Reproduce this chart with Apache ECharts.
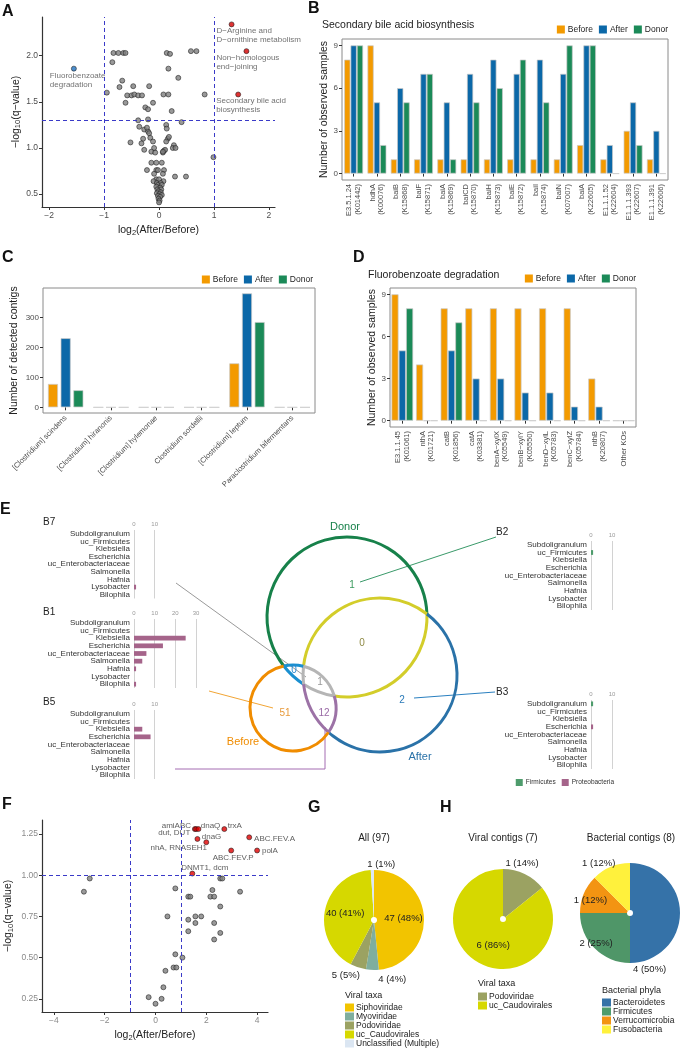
<!DOCTYPE html>
<html>
<head>
<meta charset="utf-8">
<title>Figure</title>
<script src="https://cdn.jsdelivr.net/npm/echarts@6/dist/echarts.min.js"></script>
<style>
  html, body { margin: 0; padding: 0; background: #fff; }
  #chart { width: 682px; height: 1050px; }
</style>
</head>
<body>
<div id="chart"></div>
<script>
// ---------- data ----------
// A: pathway volcano (log2 fold change vs -log10 q)
const aX = [-0.95,-0.85,-0.83,-0.74,-0.65,-0.61,-0.67,-0.72,-0.47,-0.18,-0.58,-0.50,-0.45,-0.38,-0.31,-0.61,-0.11,-0.25,-0.20,
  0.14,0.20,0.58,0.68,0.17,0.35,0.08,0.17,0.83,0.23,0.41,-0.38,-0.20,0.13,0.14,-0.36,-0.27,-0.20,-0.18,-0.29,-0.16,-0.11,-0.32,
  -0.52,0.16,0.13,0.18,0.27,0.25,0.30,-0.27,-0.14,-0.07,-0.09,0.09,0.07,0.11,0.99,-0.14,-0.05,0.05,-0.22,-0.05,0.09,-0.02,-0.09,
  0.07,0.29,0.49,-0.05,0.00,-0.10,0.08,-0.04,0.03,-0.02,0.05,-0.05,0.02,-0.03,0.04,-0.01,0.03,-0.04,0.01,0.05,-0.02,0.02,-0.01,
  0.01,0.00,-0.22,0.07];
const aY = [1.60,1.93,2.03,2.03,2.03,2.03,1.73,1.66,1.67,1.67,1.57,1.57,1.58,1.57,1.57,1.49,1.49,1.44,1.42,
  2.03,2.02,2.05,2.05,1.86,1.76,1.58,1.58,1.58,1.40,1.28,1.30,1.31,1.25,1.21,1.23,1.20,1.18,1.16,1.10,1.11,1.07,1.05,
  1.06,1.10,1.07,1.12,1.03,1.00,1.00,0.98,0.96,0.95,1.00,0.97,0.95,0.98,0.90,0.84,0.84,0.84,0.76,0.76,0.76,0.76,0.72,
  0.72,0.69,0.69,0.66,0.66,0.64,0.64,0.62,0.62,0.60,0.60,0.58,0.57,0.55,0.55,0.53,0.52,0.51,0.50,0.49,0.48,0.47,0.45,
  0.43,0.41,1.22,0.96];
const aSigNames = ['Fluorobenzoate\ndegradation', 'D\u2212Arginine and\nD\u2212ornithine metabolism',
  'Non\u2212homologous\nend\u2212joining', 'Secondary bile acid\nbiosynthesis'];
const aSigX = [-1.55, 1.32, 1.59, 1.44];
const aSigY = [1.86, 2.34, 2.05, 1.58];
const aCutX = [-1, 1];
const aCutY = [1.3];
const aTicksX = [-2, -1, 0, 1, 2];
const aTicksY = [0.5, 1.0, 1.5, 2.0];

// B: secondary bile acid biosynthesis KOs
const bKOs = ['E3.5.1.24\n(K01442)', 'hdhA\n(K00076)', 'baiB\n(K15868)', 'baiF\n(K15871)', 'baiA\n(K15869)',
  'baiCD\n(K15870)', 'baiH\n(K15873)', 'baiE\n(K15872)', 'baiI\n(K15874)', 'baiN\n(K07007)', 'baiA\n(K22605)',
  'E1.1.1.52\n(K22604)', 'E1.1.1.393\n(K22607)', 'E1.1.1.391\n(K22606)'];
const bBefore = [8, 9, 1, 1, 1, 1, 1, 1, 1, 1, 2, 1, 3, 1];
const bAfter  = [9, 5, 6, 7, 5, 7, 8, 7, 8, 7, 9, 2, 5, 3];
const bDonor  = [9, 2, 5, 7, 1, 5, 6, 8, 5, 9, 9, 0, 2, 0];
const sampleTicks = [0, 3, 6, 9];

// C: contigs per species
const cSpecies = ['[Clostridium] scindens', '[Clostridium] hiranonis', '[Clostridium] hylemonae',
  'Clostridium sordellii', '[Clostridium] leptum', 'Paraclostridium bifermentans'];
const cBefore = [78, 0, 0, 0, 147, 0];
const cAfter  = [231, 0, 0, 0, 381, 0];
const cDonor  = [57, 0, 0, 0, 285, 0];
const contigTicks = [0, 100, 200, 300];

// D: fluorobenzoate degradation KOs
const dKOs = ['E3.1.1.45\n(K01061)', 'nthA\n(K01721)', 'catB\n(K01856)', 'catA\n(K03381)', 'benA\u2212xylX\n(K05549)',
  'benB\u2212xylY\n(K05550)', 'benD\u2212xylL\n(K05783)', 'benC\u2212xylZ\n(K05784)', 'nthB\n(K20807)', 'Other KOs'];
const dBefore = [9, 4, 8, 8, 8, 8, 8, 8, 3, 0];
const dAfter  = [5, 0, 5, 3, 3, 2, 2, 1, 1, 0];
const dDonor  = [8, 0, 7, 0, 0, 0, 0, 0, 0, 0];

// E: genus composition of the Venn bins
const eGenera = ['Subdoligranulum', 'uc_Firmicutes', 'Klebsiella', 'Escherichia', 'uc_Enterobacteriaceae',
  'Salmonella', 'Hafnia', 'Lysobacter', 'Bilophila'];
const ePhyla = ['Firmicutes', 'Firmicutes', 'Proteobacteria', 'Proteobacteria', 'Proteobacteria',
  'Proteobacteria', 'Proteobacteria', 'Proteobacteria', 'Proteobacteria'];
const eB7 = [0, 0, 0, 0, 0, 0, 0, 1, 0];
const eB1 = [0, 0, 25, 14, 6, 4, 1, 0, 1];
const eB5 = [0, 0, 4, 8, 0, 0, 0, 0, 0];
const eB2 = [0, 1, 0, 0, 0, 0, 0, 0, 0];
const eB3 = [1, 0, 0, 1, 0, 0, 0, 0, 0];
const vennRegions = ['D', 'AD', 'A', 'B', 'BD', 'ABD', 'AB'];
const vennCounts = [1, 0, 2, 51, 0, 1, 12];

// F: gene volcano
const fX = [-2.82, -2.59, 0.78, 0.47, 1.29, 1.37, 1.29, 1.57, 1.80, 1.57, 1.29, 2.24, 2.16, 2.31, 2.55, 2.63, 2.55,
  2.31, 2.55, 2.31, 3.33, 0.78, 1.06, 0.71, 0.82, 0.39, 0.31, -0.27, 0.24, 0.00];
const fY = [0.90, 0.98, 0.92, 0.75, 0.87, 0.87, 0.73, 0.75, 0.75, 0.71, 0.66, 0.91, 0.87, 0.87, 0.98, 0.98, 0.81,
  0.71, 0.65, 0.61, 0.90, 0.52, 0.50, 0.44, 0.44, 0.42, 0.32, 0.26, 0.25, 0.22];
const fSigNames = ['amiABC', 'dut, DUT', 'dnaQ', 'dnaG', 'nhA, RNASEH1', 'trxA', 'ABC.FEV.A', 'ABC.FEV.P', 'polA', 'DNMT1, dcm'];
const fSigX = [1.55, 1.60, 1.69, 1.65, 2.00, 2.71, 3.69, 2.98, 4.00, 1.45];
const fSigY = [1.28, 1.28, 1.28, 1.22, 1.20, 1.28, 1.23, 1.15, 1.15, 1.01];
const fCutX = [-1, 1];
const fCutY = [1.0];
const fTicksX = [-4, -2, 0, 2, 4];
const fTicksY = [0.25, 0.50, 0.75, 1.00, 1.25];

// G / H: taxonomy pies
const gTaxa = ['Siphoviridae', 'Myoviridae', 'Podoviridae', 'uc_Caudovirales', 'Unclassified (Multiple)'];
const gCounts = [47, 4, 5, 40, 1];
const hViralTaxa = ['Podoviridae', 'uc_Caudovirales'];
const hViralCounts = [1, 6];
const hPhyla = ['Bacteroidetes', 'Firmicutes', 'Verrucomicrobia', 'Fusobacteria'];
const hPhylaCounts = [4, 2, 1, 1];

// ---------- styling ----------
const FONT = '"Liberation Sans", Arial, Helvetica, sans-serif';
const groupColor = { Before: '#f39a00', After: '#0b68a8', Donor: '#1b8a58' };
const phylumColor = { Firmicutes: '#4e9c6c', Proteobacteria: '#a5648a' };
const taxaColor = {
  'Siphoviridae': '#f2c400', 'Myoviridae': '#7fae9e', 'Podoviridae': '#9ba262', 'uc_Caudovirales': '#d6d800',
  'Unclassified (Multiple)': '#dbe6f2', 'Bacteroidetes': '#3572a8', 'Firmicutes': '#4f9668',
  'Verrucomicrobia': '#f39412', 'Fusobacteria': '#fff13c'
};
const vennColors = { D: '#17814a', A: '#2a72a8', B: '#f08c00', AD: '#d3cd2a', BD: '#1a8fd0', ABD: '#b5b5b5', AB: '#9c72a6' };
const vennTextColors = { D: '#3a9a5e', A: '#2a7ab8', B: '#e89a3a', AD: '#8f8a45', BD: '#2a8ad0', ABD: '#999', AB: '#9a6aa6' };
const vennLabelPos = { D: [352, 585], AD: [362, 643], A: [402, 700], B: [285, 713], BD: [294, 670], ABD: [320, 682], AB: [324, 713] };
const vennCircles = [
  { key: 'D', name: 'Donor', cx: 347, cy: 617, r: 80, at: [345, 527] },
  { key: 'A', name: 'After', cx: 380, cy: 675, r: 77, at: [420, 757] },
  { key: 'B', name: 'Before', cx: 293, cy: 708, r: 43, at: [243, 742] }
];
const vennLinks = [
  { pts: [[176, 583], [306, 677]], color: '#9a9a9a' },
  { pts: [[209, 691], [273, 708]], color: '#f2a535' },
  { pts: [[496, 537], [360, 582]], color: '#3a9a6a' },
  { pts: [[495, 692], [414, 698]], color: '#2a80c0' },
  { pts: [[325, 727], [325, 769], [175, 769]], color: '#a46cb2' }
];

function minus(v, d) {
  const s = Math.abs(v).toFixed(d);
  return v < 0 ? '\u2212' + s : s;
}
function roundHalfEven(x) {
  const f = Math.floor(x);
  if (Math.abs(x - f - 0.5) < 1e-6) return f % 2 === 0 ? f : f + 1;
  return Math.round(x);
}
const subRich = { s: { fontSize: 7.5, fontFamily: FONT, color: '#222', padding: [5, 0, 0, 0] } };

// ---------- grids ----------
const grids = [
  { left: 42, top: 17, width: 233, height: 190 },                        // 0 A
  { left: 342, top: 39, width: 326, height: 141, show: true, borderColor: '#8a8a8a', borderWidth: 1 }, // 1 B
  { left: 43, top: 288, width: 272, height: 125, show: true, borderColor: '#8a8a8a', borderWidth: 1 }, // 2 C
  { left: 390, top: 288, width: 246, height: 139, show: true, borderColor: '#8a8a8a', borderWidth: 1 }, // 3 D
  { left: 134, top: 530, width: 20.7, height: 68.5 },                    // 4 B7
  { left: 134, top: 619, width: 62, height: 69 },                        // 5 B1
  { left: 134, top: 710, width: 20.7, height: 69 },                      // 6 B5
  { left: 591, top: 541, width: 21, height: 69 },                        // 7 B2
  { left: 591, top: 700, width: 21, height: 69 },                        // 8 B3
  { left: 42, top: 820, width: 226, height: 192 }                        // 9 F
];

function volcanoX(gi, min, max, ticks, color, gap) {
  return {
    type: 'value', gridIndex: gi, min: min, max: max,
    axisLine: { show: true, onZero: false, lineStyle: { color: '#333', width: 1.2 } },
    axisTick: { show: true, length: 3, customValues: ticks, lineStyle: { color: '#333' } },
    axisLabel: { customValues: ticks, fontSize: 8.5, color: color, margin: 4, fontFamily: FONT, formatter: v => minus(v, 0) },
    splitLine: { show: false },
    name: 'log{s|2}(After/Before)', nameLocation: 'middle', nameGap: gap,
    nameTextStyle: { fontSize: 10.5, color: '#222', fontFamily: FONT, rich: subRich }
  };
}
function volcanoY(gi, min, max, ticks, color, dec, gap) {
  return {
    type: 'value', gridIndex: gi, min: min, max: max,
    axisLine: { show: true, onZero: false, lineStyle: { color: '#333', width: 1.2 } },
    axisTick: { show: true, length: 3, customValues: ticks, lineStyle: { color: '#333' } },
    axisLabel: { customValues: ticks, fontSize: 8.5, color: color, margin: 4, fontFamily: FONT, formatter: v => minus(v, dec) },
    splitLine: { show: false },
    name: '\u2212log{s|10}(q\u2212value)', nameLocation: 'middle', nameGap: gap, nameRotate: 90,
    nameTextStyle: { fontSize: 10.5, color: '#222', fontFamily: FONT, rich: subRich }
  };
}
function catX(gi, data, rotate, fs) {
  return {
    type: 'category', gridIndex: gi, data: data,
    axisLine: { show: false },
    axisTick: { show: true, alignWithLabel: true, length: 3, lineStyle: { color: '#333' } },
    axisLabel: { rotate: rotate, interval: 0, fontSize: fs, lineHeight: fs + 1, color: '#4d4d4d', margin: 4, fontFamily: FONT }
  };
}
function countY(gi, min, max, ticks, gap, title) {
  return {
    type: 'value', gridIndex: gi, min: min, max: max,
    axisLine: { show: false },
    axisTick: { show: true, length: 3, customValues: ticks, lineStyle: { color: '#333' } },
    axisLabel: { customValues: ticks, fontSize: 8, color: '#4d4d4d', margin: 4, fontFamily: FONT },
    splitLine: { show: false },
    name: title, nameLocation: 'middle', nameGap: gap, nameRotate: 90,
    nameTextStyle: { fontSize: 10.5, color: '#222', fontFamily: FONT }
  };
}
function binX(gi, max) {
  return {
    type: 'value', gridIndex: gi, position: 'top', min: 0, max: max, interval: 10,
    axisLine: { show: false }, axisTick: { show: false },
    axisLabel: { fontSize: 6, color: '#999', margin: 3, fontFamily: FONT },
    splitLine: { show: true, lineStyle: { color: '#d2d2d2', width: 1 } }
  };
}
function binY(gi) {
  return {
    type: 'category', gridIndex: gi, data: eGenera, inverse: true,
    axisLine: { show: false }, axisTick: { show: false },
    axisLabel: { fontSize: 8, color: '#333', margin: 4, interval: 0, fontFamily: FONT }
  };
}

const xAxes = [
  volcanoX(0, -2.13, 2.11, aTicksX, '#4d4d4d', 17),
  catX(1, bKOs, 90, 7.5),
  catX(2, cSpecies, 45, 7.5),
  catX(3, dKOs, 90, 7.5),
  binX(4, 10), binX(5, 30), binX(6, 10), binX(7, 10), binX(8, 10),
  volcanoX(9, -4.47, 4.43, fTicksX, '#8a8a8a', 17)
];
const yAxes = [
  volcanoY(0, 0.36, 2.42, aTicksY, '#4d4d4d', 1, 19),
  countY(1, -0.45, 9.45, sampleTicks, 11, 'Number of observed samples'),
  countY(2, -19, 399, contigTicks, 23, 'Number of detected contigs'),
  countY(3, -0.45, 9.45, sampleTicks, 12, 'Number of observed samples'),
  binY(4), binY(5), binY(6), binY(7), binY(8),
  volcanoY(9, 0.17, 1.335, fTicksY, '#8a8a8a', 2, 27)
];

// ---------- series ----------
const series = [];
const cutStyle = { color: '#3a3ac8', width: 1, type: [4, 3] };
function cutLines(xs, ys) {
  return {
    silent: true, symbol: 'none', label: { show: false }, lineStyle: cutStyle,
    data: xs.map(v => ({ xAxis: v })).concat(ys.map(v => ({ yAxis: v })))
  };
}
const grayPoint = { color: '#808080', borderColor: '#1a1a1a', borderWidth: 0.7 };

// A
series.push({
  type: 'scatter', xAxisIndex: 0, yAxisIndex: 0, symbolSize: 5, itemStyle: grayPoint,
  data: aX.map((x, i) => [x, aY[i]]), markLine: cutLines(aCutX, aCutY), z: 3
});
const aLabelOffset = [[-24, -5], [-15, -6], [-30, -6], [-22, -6]];
series.push({
  type: 'scatter', xAxisIndex: 0, yAxisIndex: 0, symbolSize: 5, z: 4,
  data: aSigX.map((x, i) => ({
    value: [x, aSigY[i]], name: aSigNames[i],
    itemStyle: { color: x < 0 ? '#1f72c0' : '#d40000', borderColor: '#1a1a1a', borderWidth: 0.7 },
    label: { show: true, position: 'bottom', align: 'left', offset: aLabelOffset[i], formatter: '{b}',
      fontSize: 8, lineHeight: 9, color: '#4d4d4d', fontFamily: FONT }
  }))
});

// B, C, D grouped bars
function groupBars(gi, before, after, donor, gap, catGap) {
  [['Before', before], ['After', after], ['Donor', donor]].forEach(([name, vals]) => {
    series.push({
      type: 'bar', name: name, xAxisIndex: gi, yAxisIndex: gi, data: vals,
      barGap: gap, barCategoryGap: catGap,
      itemStyle: { color: groupColor[name], borderColor: '#c8c8c8', borderWidth: 0.7 }
    });
  });
}
groupBars(1, bBefore, bAfter, bDonor, '3%', '19%');
groupBars(2, cBefore, cAfter, cDonor, '27%', '22%');
groupBars(3, dBefore, dAfter, dDonor, '4%', '12%');

// E bin bar charts
[eB7, eB1, eB5, eB2, eB3].forEach((vals, k) => {
  ['Firmicutes', 'Proteobacteria'].forEach(ph => {
    series.push({
      type: 'bar', name: ph, xAxisIndex: 4 + k, yAxisIndex: 4 + k, stack: 'bin' + k, barWidth: '62%',
      itemStyle: { color: phylumColor[ph] },
      data: vals.map((v, i) => (ePhyla[i] === ph && v > 0 ? v : '-'))
    });
  });
});

// F
series.push({
  type: 'scatter', xAxisIndex: 9, yAxisIndex: 9, symbolSize: 5, itemStyle: grayPoint,
  data: fX.map((x, i) => [x, fY[i]]), markLine: cutLines(fCutX, fCutY), z: 3
});
const fLabelPlace = [
  ['left', [1, -3]], ['left', [-1, 4]], ['right', [-2.5, -3]], ['right', [-0.5, -2]], ['left', [5.5, 6]],
  ['right', [-1.5, -3]], ['right', [0, 1]], ['bottom', [2, -2]], ['right', [0, 0]], ['top', [12.5, 3]]
];
series.push({
  type: 'scatter', xAxisIndex: 9, yAxisIndex: 9, symbolSize: 5, z: 4,
  itemStyle: { color: '#e00000', borderColor: '#1a1a1a', borderWidth: 0.7 },
  data: fSigX.map((x, i) => ({
    value: [x, fSigY[i]], name: fSigNames[i],
    label: { show: true, position: fLabelPlace[i][0], offset: fLabelPlace[i][1], distance: 2, formatter: '{b}',
      fontSize: 8, color: '#333', fontFamily: FONT }
  }))
});

// G / H pies
function pie(names, counts, center, placement, nudge) {
  return {
    type: 'pie', center: center, radius: [3, 50], startAngle: 90, clockwise: true,
    avoidLabelOverlap: false, silent: true,
    label: { fontSize: 9.5, color: '#222', fontFamily: FONT, distanceToLabelLine: 0,
      formatter: p => p.value + ' (' + roundHalfEven(p.percent) + '%)' },
    labelLine: { show: false, length: 4, length2: 0 },
    labelLayout: p => ({ dx: nudge[p.dataIndex][0], dy: nudge[p.dataIndex][1] }),
    data: names.map((n, i) => ({ name: n, value: counts[i], itemStyle: { color: taxaColor[n] },
      label: { position: placement[i] } }))
  };
}
series.push(pie(gTaxa, gCounts, [374, 920], ['inside', 'outside', 'outside', 'inside', 'outside'],
  [[0, 0], [34, 5], [3, 4], [0, 0], [23, -2]]));
series.push(pie(hViralTaxa, hViralCounts, [503, 919], ['outside', 'inside'], [[-21, -7], [3, 0]]));
series.push(pie(hPhyla, hPhylaCounts, [630, 913], ['outside', 'inside', 'outside', 'outside'],
  [[-51, 56], [-13, 10], [27, 8], [6, 0]]));

// ---------- titles & legends ----------
function t(text, left, top, size, extra) {
  return Object.assign({ text: text, left: left, top: top, padding: 0,
    textStyle: Object.assign({ fontSize: size, fontWeight: 'normal', color: '#222', fontFamily: FONT }, extra || {}) });
}
const bold = { fontWeight: 'bold', color: '#111' };
const titles = [
  t('A', 2, 4, 16, bold), t('B', 308, 1, 16, bold), t('C', 2, 250, 16, bold), t('D', 353, 250, 16, bold),
  t('E', 0, 502, 16, bold), t('F', 2, 797, 16, bold), t('G', 308, 800, 16, bold), t('H', 440, 800, 16, bold),
  t('Secondary bile acid biosynthesis', 322, 20, 10.5),
  t('Fluorobenzoate degradation', 368, 270, 10.5),
  t('B7', 43, 517, 10), t('B1', 43, 607, 10), t('B5', 43, 697, 10), t('B2', 496, 527, 10), t('B3', 496, 687, 10),
  Object.assign(t('All (97)', 374, 833, 10), { textAlign: 'center' }),
  Object.assign(t('Viral contigs (7)', 503, 833, 10), { textAlign: 'center' }),
  Object.assign(t('Bacterial contigs (8)', 631, 833, 10), { textAlign: 'center' }),
  t('Viral taxa', 345, 991, 9), t('Viral taxa', 478, 979, 9), t('Bacterial phyla', 602, 986, 9)
];
function groupLegend(right, top) {
  return { data: ['Before', 'After', 'Donor'], right: right, top: top, padding: 0, itemGap: 6,
    itemWidth: 8, itemHeight: 8, icon: 'rect', selectedMode: false, itemStyle: { borderWidth: 0 },
    textStyle: { fontSize: 8.5, color: '#222', fontFamily: FONT, padding: [0, 0, 0, -2] } };
}
function taxaLegend(names, left, top) {
  return { data: names, left: left, top: top, orient: 'vertical', padding: 0, itemGap: 0,
    itemWidth: 9, itemHeight: 8, icon: 'rect', selectedMode: false, itemStyle: { borderWidth: 0 },
    textStyle: { fontSize: 8.5, lineHeight: 9, color: '#222', fontFamily: FONT, padding: [0, 0, 0, -3] } };
}
const legends = [
  groupLegend(14, 25), groupLegend(369, 275), groupLegend(46, 274),
  { data: ['Firmicutes', 'Proteobacteria'], right: 68, top: 779, padding: 0, itemGap: 6, itemWidth: 7, itemHeight: 7,
    icon: 'rect', selectedMode: false, itemStyle: { borderWidth: 0 },
    textStyle: { fontSize: 6.5, color: '#333', fontFamily: FONT, padding: [0, 0, 0, -2] } },
  taxaLegend(gTaxa, 345, 1003), taxaLegend(hViralTaxa, 478, 992), taxaLegend(hPhyla, 602, 998)
];

// ---------- Venn diagram (panel E) ----------
function vennArcs() {
  const els = [];
  vennCircles.forEach((c, i) => {
    const angles = [];
    vennCircles.forEach((o, j) => {
      if (i === j) return;
      const dx = o.cx - c.cx, dy = o.cy - c.cy, d = Math.hypot(dx, dy);
      if (d >= c.r + o.r || d <= Math.abs(c.r - o.r)) return;
      const a = (c.r * c.r - o.r * o.r + d * d) / (2 * d);
      const h = Math.sqrt(c.r * c.r - a * a);
      const px = c.cx + a * dx / d, py = c.cy + a * dy / d;
      [[px + h * dy / d, py - h * dx / d], [px - h * dy / d, py + h * dx / d]].forEach(p => {
        let ang = Math.atan2(p[1] - c.cy, p[0] - c.cx);
        if (ang < 0) ang += 2 * Math.PI;
        angles.push(ang);
      });
    });
    angles.sort((a, b) => a - b);
    for (let k = 0; k < angles.length; k++) {
      const s = angles[k];
      const e = k + 1 < angles.length ? angles[k + 1] : angles[0] + 2 * Math.PI;
      const m = (s + e) / 2;
      const mx = c.cx + c.r * Math.cos(m), my = c.cy + c.r * Math.sin(m);
      const keys = [c.key];
      vennCircles.forEach((o, j) => { if (j !== i && Math.hypot(mx - o.cx, my - o.cy) < o.r) keys.push(o.key); });
      els.push({ type: 'arc', silent: true,
        shape: { cx: c.cx, cy: c.cy, r: c.r, startAngle: s, endAngle: e, clockwise: true },
        style: { stroke: vennColors[keys.sort().join('')], fill: 'none', lineWidth: 3 } });
    }
  });
  return els;
}
function txt(x, y, text, color, size) {
  return { type: 'text', x: x, y: y, silent: true,
    style: { text: text, fill: color, font: size + 'px ' + FONT, align: 'center', verticalAlign: 'middle',
      textAlign: 'center', textVerticalAlign: 'middle' } };
}
const graphics = [];
vennLinks.forEach(l => graphics.push({ type: 'polyline', silent: true, shape: { points: l.pts },
  style: { stroke: l.color, lineWidth: 1, fill: 'none' } }));
vennArcs().forEach(a => graphics.push(a));
vennCircles.forEach(c => graphics.push(txt(c.at[0], c.at[1], c.name, vennColors[c.key], 11)));
vennRegions.forEach((r, i) => graphics.push(txt(vennLabelPos[r][0], vennLabelPos[r][1], String(vennCounts[i]), vennTextColors[r], 10)));

const chart = echarts.init(document.getElementById('chart'));
chart.setOption({
  animation: false,
  backgroundColor: '#fff',
  textStyle: { fontFamily: FONT },
  title: titles,
  legend: legends,
  grid: grids,
  xAxis: xAxes,
  yAxis: yAxes,
  series: series,
  graphic: graphics
});
</script>
</body>
</html>
